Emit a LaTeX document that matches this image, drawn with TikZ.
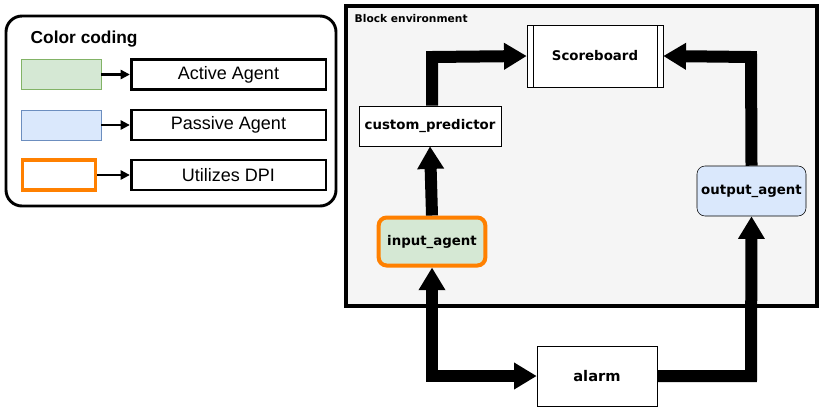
\documentclass[tikz,border=0pt]{standalone}
\usepackage{fontspec}
\setmainfont{Liberation Sans}
\newfontfamily\dv{DejaVu Sans}
\usetikzlibrary{arrows.meta}
\definecolor{gfill}{HTML}{D5E8D4}\definecolor{gline}{HTML}{82B366}
\definecolor{bfill}{HTML}{DAE8FC}\definecolor{bline}{HTML}{6C8EBF}
\definecolor{orng}{HTML}{FF8000}\definecolor{envfill}{HTML}{F5F5F5}
\begin{document}
\begin{tikzpicture}[x=0.75pt,y=-0.75pt,
  lbox/.style={draw,line width=2pt,minimum width=146pt,minimum height=22.5pt,inner sep=0pt,font=\fontsize{13.5}{15}\selectfont},
  sw/.style={minimum width=60pt,minimum height=22.5pt,inner sep=0pt},
  sarr/.style={-{Triangle[length=7pt,width=7pt]},line width=1.6pt},
  nd/.style={draw,inner sep=0pt,font=\dv\bfseries\fontsize{10}{12}\selectfont},
  big/.style={line width=9pt,-{Triangle[length=17pt,width=19pt]}}]
\useasboundingbox (0,0) rectangle (823,411);
% legend
\draw[line width=2.2pt,rounded corners=12pt] (6,16) rectangle (336,206);
\node[anchor=west,font=\bfseries\fontsize{13}{15}\selectfont] (title) at (26,39) {Color coding};
\node[sw,draw=gline,fill=gfill,line width=0.6pt] (g) at (61,74.5) {};
\node[lbox] (la) at (228.5,74.5) {Active Agent};
\node[sw,draw=bline,fill=bfill,line width=0.6pt] (b) at (61,125) {};
\node[lbox] (lb) at (228.5,125) {Passive Agent};
\node[sw,minimum width=55pt,draw=orng,line width=2.4pt,fill=white] (o) at (59,175) {};
\node[lbox] (lc) at (228.5,175) {Utilizes DPI};
\draw[sarr] (g) -- (la);
\draw[sarr] (b) -- (lb);
\draw[sarr] (o) -- (lc);
% environment
\draw[line width=2.4pt,fill=envfill] (346,6) rectangle (817,306);
\node[anchor=west,font=\dv\bfseries\fontsize{8}{9}\selectfont] (envl) at (350,19) {Block environment};
\node[nd,fill=white,minimum width=102pt,minimum height=46.5pt] (sb) at (595,56) {Scoreboard};
\draw (533,25) -- (533,87) (657,25) -- (657,87);
\node[nd,fill=white,minimum width=106.5pt,minimum height=30pt] (cp) at (430,126) {custom\_predictor};
\node[nd,draw=orng,line width=3pt,fill=gfill,rounded corners=6pt,minimum width=80pt,minimum height=36pt] (ia) at (432,241.5) {input\_agent};
\node[nd,draw=black,fill=bfill,rounded corners=6pt,minimum width=81.75pt,minimum height=37.5pt] (oa) at (751.5,191) {output\_agent};
\node[nd,fill=white,font=\dv\bfseries\fontsize{11}{13}\selectfont,minimum width=90pt,minimum height=45pt] (al) at (597,376) {alarm};
\coordinate (c1) at (432,57);
\coordinate (c2) at (751,57);
\coordinate (c3) at (751,376);
\coordinate (c4) at (432,376);
\draw[big] (ia.north) -- (cp.south);
\draw[big] (cp.north -| ia.north) -- (c1) -- (sb.west);
\draw[big] (oa.north) -- (c2) -- (sb.east);
\draw[big] (al.east) -- (c3) -- (oa.south);
\draw[big,{Triangle[length=17pt,width=19pt]}-{Triangle[length=17pt,width=19pt]}] (ia.south) -- (c4) -- (al.west);
\end{tikzpicture}
\end{document}
